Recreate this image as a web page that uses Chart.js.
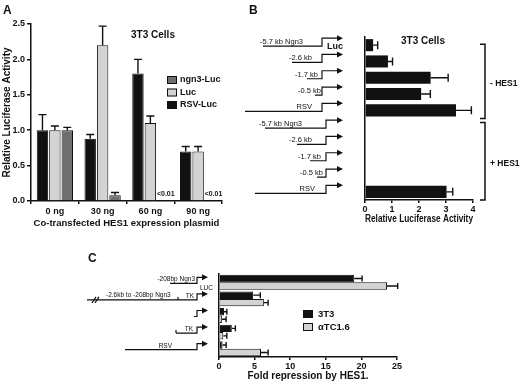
<!DOCTYPE html>
<html>
<head>
<meta charset="utf-8">
<script src="https://cdn.jsdelivr.net/npm/chart.js@4.4.1/dist/chart.umd.min.js"></script>
<style>
  body { margin: 0; background: #fff; }
  #wrap { position: relative; width: 520px; height: 384px; overflow: hidden; }
  canvas { position: absolute; }
</style>
</head>
<body>
<div id="wrap">
  <canvas id="chartA" width="232" height="232" style="left:0;top:0"></canvas>
  <canvas id="chartB" width="290" height="232" style="left:230px;top:0"></canvas>
  <canvas id="chartC" width="520" height="144" style="left:0;top:240px"></canvas>
</div>
<script>
// Panel A: luciferase activity vs co-transfected HES1
const doseLabels = ["0 ng", "30 ng", "60 ng", "90 ng"];
const rsvLuc = [1.0, 0.88, 1.8, 0.7];
const rsvLucErr = [1.22, 0.94, 2.0, 0.77];
const lucOnly = [1.0, 2.2, 1.1, 0.7];
const lucOnlyErr = [1.06, 2.47, 1.2, 0.77];
const ngn3Luc = [1.0, 0.08, 0, 0];
const ngn3LucErr = [1.04, 0.12, null, null];
const ngn3Notes = [null, null, "<0.01", "<0.01"];

// Panel B: promoter deletions, 3T3 cells
const constructLabels = ["-5.7 kb Ngn3", "-2.6 kb", "-1.7 kb", "-0.5 kb", "RSV",
                         "-5.7 kb Ngn3", "-2.6 kb", "-1.7 kb", "-0.5 kb", "RSV"];
const activityB = [0.3, 0.85, 2.43, 2.08, 3.37, 0, 0, 0, 0, 3.02];
const activityBErr = [0.47, 1.02, 3.08, 2.42, 3.94, null, null, null, null, 3.25];

// Panel C: fold repression by HES1
const reporterLabels = ["-208bp Ngn3", "-2.6kb to -208bp Ngn3", "", "TK", "RSV"];
const fold3T3 = [19, 4.8, 0.7, 1.8, 0.5];
const fold3T3Err = [20.1, 5.8, 1.1, 2.3, 1.0];
const foldTC = [23.6, 6.3, 0.4, 0.6, 5.9];
const foldTCErr = [25.1, 6.9, 1.0, 1.1, 6.9];

const FONT = '"Liberation Sans", Arial, Helvetica, sans-serif';
const INK = "#111";
const DARK_GRAY = "#6f6f6f";
const LIGHT_GRAY = "#d3d3d3";

Chart.defaults.font.family = FONT;
Chart.defaults.color = INK;

// upper error bars, drawn for whichever axis holds the values
const errorBarPlugin = {
  id: "errorBars",
  afterDatasetsDraw(chart) {
    const ctx = chart.ctx;
    const horizontal = chart.options.indexAxis === "y";
    const valueScale = horizontal ? chart.scales.x : chart.scales.y;
    const cap = chart.options.errorCap || 4;
    chart.data.datasets.forEach((ds, di) => {
      if (!ds.errorTops) return;
      const meta = chart.getDatasetMeta(di);
      ctx.save();
      ctx.strokeStyle = INK;
      ctx.lineWidth = 1.4;
      meta.data.forEach((bar, i) => {
        const top = ds.errorTops[i];
        if (top == null) return;
        const p = valueScale.getPixelForValue(top);
        ctx.beginPath();
        if (horizontal) {
          ctx.moveTo(bar.x, bar.y);
          ctx.lineTo(p, bar.y);
          ctx.moveTo(p, bar.y - cap);
          ctx.lineTo(p, bar.y + cap);
        } else {
          ctx.moveTo(bar.x, bar.y);
          ctx.lineTo(bar.x, p);
          ctx.moveTo(bar.x - cap, p);
          ctx.lineTo(bar.x + cap, p);
        }
        ctx.stroke();
      });
      ctx.restore();
    });
  }
};

function promoter(ctx, x0, stepX, arrowX, yBase, rise) {
  ctx.beginPath();
  ctx.moveTo(x0, yBase);
  ctx.lineTo(stepX, yBase);
  ctx.lineTo(stepX, yBase - rise);
  ctx.lineTo(arrowX - 4, yBase - rise);
  ctx.stroke();
  ctx.beginPath();
  ctx.moveTo(arrowX, yBase - rise);
  ctx.lineTo(arrowX - 6, yBase - rise - 3);
  ctx.lineTo(arrowX - 6, yBase - rise + 3);
  ctx.closePath();
  ctx.fill();
}

function swatch(ctx, x, y, color) {
  ctx.fillStyle = color;
  ctx.fillRect(x, y - 4, 10, 8);
  ctx.strokeStyle = INK;
  ctx.lineWidth = 1;
  ctx.strokeRect(x + 0.5, y - 3.5, 9, 7);
}

const annotateA = {
  id: "annotateA",
  afterDraw(chart) {
    const { ctx, chartArea } = chart;
    ctx.save();
    ctx.fillStyle = INK;
    ctx.textBaseline = "middle";
    ctx.font = "bold 12px " + FONT;
    ctx.fillText("A", 3, 11);
    ctx.textAlign = "center";
    ctx.font = "bold 10px " + FONT;
    ctx.fillText("3T3 Cells", 153, 35);
    ctx.font = "bold 7px " + FONT;
    const ngnMeta = chart.getDatasetMeta(2);
    ngn3Notes.forEach((note, i) => {
      if (note) ctx.fillText(note, ngnMeta.data[i].x + 3, chartArea.bottom - 7);
    });
    // legend, listed in reverse dataset order
    ctx.textAlign = "left";
    ctx.font = "bold 9px " + FONT;
    [2, 1, 0].forEach((di, k) => {
      const ds = chart.data.datasets[di];
      const y = 80 + k * 12.5;
      swatch(ctx, 167, y, ds.backgroundColor);
      ctx.fillStyle = INK;
      ctx.fillText(ds.label, 180, y);
    });
    ctx.restore();
  }
};

const annotateB = {
  id: "annotateB",
  afterDraw(chart) {
    const { ctx, chartArea, scales } = chart;
    const lineStart = [33, 62, 77, 85, 15, 35, 67, 80, 87, 25];
    const labelRight = [73, 82, 88, 91, 82, 72, 82, 91, 93, 85];
    ctx.save();
    ctx.fillStyle = INK;
    ctx.strokeStyle = INK;
    ctx.textBaseline = "middle";
    ctx.font = "bold 12px " + FONT;
    ctx.fillText("B", 19, 11);
    ctx.textAlign = "center";
    ctx.font = "bold 10px " + FONT;
    ctx.fillText("3T3 Cells", 193, 41);
    ctx.lineWidth = 1.2;
    constructLabels.forEach((label, i) => {
      const yc = scales.y.getPixelForValue(i);
      const stepX = i < 5 ? 92 : 96;
      const yBase = yc + (i < 5 ? 1 : 1.5);
      promoter(ctx, lineStart[i], stepX, 113, yBase, 8);
      ctx.textAlign = "right";
      ctx.textBaseline = "bottom";
      ctx.font = "7.5px " + FONT;
      ctx.fillText(label, labelRight[i], yBase - 0.5);
    });
    ctx.textAlign = "left";
    ctx.textBaseline = "middle";
    ctx.font = "bold 9px " + FONT;
    ctx.fillText("Luc", 97, scales.y.getPixelForValue(0) + 1);
    // brackets for - / + HES1
    const bx = 255;
    const split = scales.y.getPixelForValue(4.5);
    const groups = [
      [scales.y.getPixelForValue(0) - 1, split, "- HES1"],
      [split + 4, chartArea.bottom, "+ HES1"]
    ];
    ctx.lineWidth = 1.5;
    groups.forEach(([y0, y1, text]) => {
      ctx.beginPath();
      ctx.moveTo(bx - 5, y0);
      ctx.lineTo(bx, y0);
      ctx.lineTo(bx, y1);
      ctx.lineTo(bx - 5, y1);
      ctx.stroke();
      ctx.font = "bold 8.5px " + FONT;
      ctx.fillText(text, bx + 5, (y0 + y1) / 2 + 2);
    });
    ctx.restore();
  }
};

const annotateC = {
  id: "annotateC",
  afterDraw(chart) {
    const { ctx, scales } = chart;
    const stepX = 197, arrowX = 208;
    const lineStart = [170, 87, 194, 176, 125];
    ctx.save();
    ctx.fillStyle = INK;
    ctx.strokeStyle = INK;
    ctx.textBaseline = "middle";
    ctx.font = "bold 12px " + FONT;
    ctx.fillText("C", 88, 19);
    ctx.lineWidth = 1.2;
    const rowY = reporterLabels.map((_, i) => scales.y.getPixelForValue(i) + 1);
    rowY.forEach((yb, i) => promoter(ctx, lineStart[i], stepX, arrowX, yb, 6));
    ctx.font = "6.5px " + FONT;
    ctx.textBaseline = "bottom";
    ctx.textAlign = "right";
    ctx.fillText(reporterLabels[0], 195, rowY[0] - 0.5);
    ctx.fillText(reporterLabels[4], 172, rowY[4] - 0.5);
    ctx.fillText("TK", 193, rowY[3] - 0.5);
    ctx.fillText("TK", 194, rowY[1] - 0.5);
    ctx.textAlign = "left";
    ctx.fillText(reporterLabels[1], 106, rowY[1] - 1);
    ctx.textBaseline = "middle";
    ctx.fillText("LUC", 200, rowY[0] + 5);
    // small joints and the // break
    ctx.beginPath();
    ctx.moveTo(178, rowY[1]); ctx.lineTo(178, rowY[1] - 3);
    ctx.moveTo(176, rowY[3]); ctx.lineTo(176, rowY[3] - 3);
    ctx.moveTo(92, rowY[1] + 3); ctx.lineTo(96, rowY[1] - 3);
    ctx.moveTo(95, rowY[1] + 3); ctx.lineTo(99, rowY[1] - 3);
    ctx.stroke();
    // legend
    ctx.font = "bold 9.5px " + FONT;
    chart.data.datasets.forEach((ds, k) => {
      const y = 74 + k * 13;
      swatch(ctx, 303, y, ds.backgroundColor);
      ctx.fillStyle = INK;
      ctx.fillText(ds.label, 318, y);
    });
    ctx.restore();
  }
};

const axisLine = { color: INK, width: 1.5 };
const tickGrid = { drawOnChartArea: false, tickLength: 3, color: INK, lineWidth: 1.5 };
const tickFont = { size: 9, weight: "bold" };
const titleFont = { size: 9.5, weight: "bold" };

new Chart(document.getElementById("chartA"), {
  type: "bar",
  data: {
    labels: doseLabels,
    datasets: [
      { label: "RSV-Luc", data: rsvLuc, errorTops: rsvLucErr, backgroundColor: INK },
      { label: "Luc", data: lucOnly, errorTops: lucOnlyErr, backgroundColor: LIGHT_GRAY },
      { label: "ngn3-Luc", data: ngn3Luc, errorTops: ngn3LucErr, backgroundColor: DARK_GRAY }
    ]
  },
  options: {
    responsive: false,
    animation: false,
    layout: { padding: { top: 24, right: 10, left: 0, bottom: 0 } },
    datasets: { bar: { categoryPercentage: 0.78, barPercentage: 0.92, borderColor: INK, borderWidth: 1 } },
    plugins: { legend: { display: false }, tooltip: { enabled: false } },
    scales: {
      x: {
        afterFit: (s) => { s.height = 31; },
        grid: tickGrid,
        border: axisLine,
        ticks: { font: tickFont, color: INK, padding: 2 },
        title: { display: true, text: "Co-transfected HES1 expression plasmid", font: titleFont, color: INK, padding: { top: 0, bottom: 3 } }
      },
      y: {
        min: 0,
        max: 2.5,
        afterFit: (s) => { s.width = 31; },
        grid: { drawOnChartArea: false, tickLength: 4, color: INK, lineWidth: 1.5 },
        border: axisLine,
        ticks: { stepSize: 0.5, font: tickFont, color: INK, padding: 2, callback: (v) => v.toFixed(1) },
        title: { display: true, text: "Relative Luciferase Activity", font: { size: 10, weight: "bold" }, color: INK, padding: { top: 1, bottom: 0 } }
      }
    }
  },
  plugins: [errorBarPlugin, annotateA]
});

new Chart(document.getElementById("chartB"), {
  type: "bar",
  data: {
    labels: constructLabels,
    datasets: [
      { label: "3T3", data: activityB, errorTops: activityBErr, backgroundColor: INK, borderWidth: 0 }
    ]
  },
  options: {
    indexAxis: "y",
    responsive: false,
    animation: false,
    errorCap: 4,
    layout: { padding: { top: 37, right: 47, left: 0, bottom: 0 } },
    datasets: { bar: { categoryPercentage: 1, barPercentage: 0.74 } },
    plugins: { legend: { display: false }, tooltip: { enabled: false } },
    scales: {
      x: {
        min: 0,
        max: 4,
        afterFit: (s) => { s.height = 32; },
        grid: tickGrid,
        border: axisLine,
        ticks: { stepSize: 1, font: tickFont, color: INK, padding: 1 },
        title: { display: true, text: "Relative Luciferase Activity", font: { size: 10, weight: "bold" }, color: INK, padding: { top: 0, bottom: 7 } }
      },
      y: {
        afterFit: (s) => { s.width = 135; },
        grid: { display: false },
        border: axisLine,
        ticks: { display: false }
      }
    }
  },
  plugins: [errorBarPlugin, annotateB]
});

new Chart(document.getElementById("chartC"), {
  type: "bar",
  data: {
    labels: reporterLabels,
    datasets: [
      { label: "3T3", data: fold3T3, errorTops: fold3T3Err, backgroundColor: INK },
      { label: "\u03b1TC1.6", data: foldTC, errorTops: foldTCErr, backgroundColor: LIGHT_GRAY }
    ]
  },
  options: {
    indexAxis: "y",
    responsive: false,
    animation: false,
    errorCap: 3,
    layout: { padding: { top: 34, right: 123, left: 0, bottom: 0 } },
    datasets: { bar: { categoryPercentage: 0.9, barPercentage: 1, borderColor: INK, borderWidth: 1 } },
    plugins: { legend: { display: false }, tooltip: { enabled: false } },
    scales: {
      x: {
        min: 0,
        max: 25,
        afterFit: (s) => { s.height = 27; },
        grid: tickGrid,
        border: axisLine,
        ticks: { stepSize: 5, font: tickFont, color: INK, padding: 1 },
        title: { display: true, text: "Fold repression by HES1.", font: { size: 10, weight: "bold" }, color: INK, padding: { top: 0, bottom: 2 } }
      },
      y: {
        afterFit: (s) => { s.width = 219; },
        grid: { display: false },
        border: axisLine,
        ticks: { display: false }
      }
    }
  },
  plugins: [errorBarPlugin, annotateC]
});
</script>
</body>
</html>
